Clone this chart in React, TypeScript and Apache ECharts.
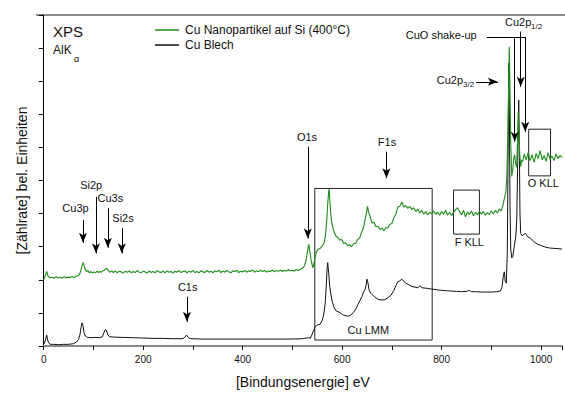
import React, { useEffect, useRef } from "react";
import * as echarts from "echarts";

// Binding energy (eV) vs. intensity (arb. units, 0..10 frame)
const nanoName = "Cu Nanopartikel auf Si (400°C)";
const blechName = "Cu Blech";

const nanoData: [number, number][] = [
  [0,2.00],[3,2.12],[6,2.25],[9,2.10],[13,2.06],[17,2.08],[21,2.05],[25,2.09],[29,2.06],[33,2.08],[37,2.05],[41,2.09],[45,2.06],[49,2.08],[53,2.07],[57,2.10],[61,2.07],[65,2.11],[69,2.12],[72,2.16],[75,2.30],[77,2.42],[79,2.52],[81,2.45],[83,2.33],[86,2.25],[89,2.28],[92,2.21],[95,2.25],[98,2.20],[101,2.24],[104,2.21],[107,2.26],[110,2.22],[113,2.25],[116,2.23],[119,2.27],[122,2.29],[125,2.34],[128,2.33],[131,2.26],[134,2.23],[137,2.27],
  [140,2.22],[144,2.27],[148,2.21],[152,2.26],[156,2.24],[160,2.20],[164,2.26],[168,2.23],[172,2.27],[176,2.21],[180,2.25],[184,2.22],[188,2.28],[192,2.23],[196,2.21],[200,2.26],[204,2.24],[208,2.20],[212,2.27],[216,2.22],[220,2.25],[224,2.21],[228,2.28],[232,2.24],[236,2.22],[240,2.26],[244,2.21],[248,2.27],[252,2.23],[256,2.25],[260,2.20],[264,2.26],[268,2.23],[272,2.28],[276,2.22],[280,2.25],[284,2.27],[288,2.21],[292,2.26],[296,2.23],[300,2.28],[304,2.22],[308,2.25],[312,2.21],[316,2.27],[320,2.24],[324,2.22],[328,2.28],[332,2.23],[336,2.26],[340,2.21],[344,2.27],[348,2.24],[352,2.29],[356,2.22],[360,2.26],[364,2.23],[368,2.28],[372,2.24],[376,2.21],[380,2.27],[384,2.25],[388,2.29],[392,2.22],[396,2.26],[400,2.24],[404,2.28],[408,2.23],[412,2.27],[416,2.25],[420,2.30],[424,2.23],[428,2.27],[432,2.24],[436,2.29],[440,2.25],[444,2.28],[448,2.23],[452,2.27],[456,2.25],[460,2.30],[464,2.24],[468,2.28],[472,2.26],[476,2.30],[480,2.25],[484,2.29],[488,2.26],[492,2.31],[496,2.27],[500,2.29],[504,2.26],[508,2.31],[512,2.28],[516,2.32],
  [520,2.34],[524,2.42],[527,2.56],[530,2.82],[533,3.08],[535,2.86],[538,2.56],[541,2.36],[544,2.55],[547,2.78],[550,2.90],[553,2.93],[556,2.95],[560,3.03],[564,3.12],[567,3.42],[569,3.78],[571,4.30],[573,4.68],[574,4.74],[576,4.22],[578,3.86],[580,3.66],[583,3.48],[587,3.33],[591,3.28],[595,3.20],[599,3.22],[603,3.10],[607,3.12],[611,3.03],[615,3.06],[619,3.00],[623,3.09],[627,3.10],[631,3.22],[635,3.26],[639,3.43],[643,3.58],[646,3.82],[649,4.02],[651,4.22],[653,4.06],[656,3.92],[660,3.72],[664,3.74],[668,3.60],[672,3.62],[676,3.52],[680,3.56],[684,3.48],[688,3.58],[692,3.57],[696,3.68],[700,3.70],[704,3.88],[708,3.98],[712,4.20],[716,4.22],[720,4.35],[724,4.20],[728,4.24],[732,4.16],[736,4.22],[740,4.12],[744,4.18],[748,4.06],[752,4.14],[756,4.02],[760,4.10],[764,3.98],[768,4.06],[772,3.96],[776,4.04],
  [780,4.00],[784,4.08],[788,3.97],[792,4.05],[796,3.95],[800,4.06],[804,3.98],[808,4.10],[812,3.96],[816,4.04],[820,3.94],[824,4.03],[828,4.12],[832,4.18],[836,4.06],[840,3.96],[844,4.10],[848,3.90],[852,4.05],[856,3.97],[860,4.08],[864,3.93],[868,4.04],[872,3.96],[876,4.07],[880,3.98],[884,4.06],[888,3.95],[892,4.03],[896,3.97],[900,4.08],[904,3.99],[908,4.10],[912,4.02],[916,4.14],[920,4.08],
  [924,4.30],[927,4.52],[929,4.64],[931,5.10],[933,6.30],[935,8.10],[936,9.04],[937,8.20],[939,6.10],[941,5.12],[943,5.32],[945,5.68],[947,5.78],[949,5.48],[951,5.40],[953,6.50],[954,7.08],[955,6.70],[957,5.80],[959,5.42],[961,5.62],[963,5.58],
  [966,5.80],[970,5.62],[974,5.85],[978,5.60],[982,5.78],[986,5.55],[990,5.82],[994,5.66],[998,5.90],[1002,5.62],[1006,5.76],[1010,5.58],[1014,5.84],[1018,5.64],[1022,5.74],[1026,5.60],[1030,5.80],[1034,5.66],[1038,5.76],[1042,5.70],
];

const blechData: [number, number][] = [
  [0,0.05],[3,0.15],[6,0.33],[9,0.12],[13,0.05],[20,0.05],[30,0.04],[40,0.05],[50,0.05],[60,0.07],[66,0.12],[70,0.20],[73,0.35],[75,0.55],[77,0.70],[79,0.62],[81,0.40],[84,0.30],[88,0.26],[95,0.25],[105,0.26],[112,0.25],[118,0.28],[121,0.40],[124,0.50],[126,0.48],[129,0.33],[133,0.28],[140,0.27],[160,0.26],[180,0.25],[200,0.24],[220,0.23],[240,0.23],[260,0.22],[278,0.22],[283,0.25],[287,0.33],[291,0.25],[296,0.22],[320,0.21],[350,0.21],[400,0.21],[450,0.21],[500,0.21],[520,0.22],[528,0.24],[533,0.25],[536,0.23],[539,0.33],[542,0.45],[545,0.55],[548,0.62],[552,0.65],[556,0.66],[560,0.78],[563,0.95],[566,1.30],[568,1.80],[570,2.40],[571,2.52],[573,2.20],[575,1.80],[577,1.60],[580,1.35],[584,1.15],[588,1.06],[593,1.03],[598,0.98],[603,0.93],[608,0.91],[613,0.90],[618,0.94],[623,1.02],[628,1.13],[632,1.26],[636,1.38],[640,1.50],[643,1.64],[646,1.70],[648,1.82],[650,2.02],[652,1.90],[654,1.70],[657,1.60],[662,1.53],[668,1.45],[674,1.40],[680,1.39],[686,1.40],[692,1.46],[698,1.53],[704,1.68],[708,1.82],[712,1.94],[716,1.97],[720,2.02],[724,1.95],[728,1.90],[734,1.85],[740,1.80],[746,1.78],[752,1.76],[757,1.82],[760,1.76],[766,1.75],[772,1.74],[780,1.72],[790,1.70],[800,1.68],[810,1.67],[820,1.66],[830,1.65],[840,1.64],[850,1.65],[856,1.68],[860,1.64],[870,1.64],[880,1.63],[890,1.63],[900,1.63],[910,1.64],[918,1.66],[921,1.75],[924,2.10],[926,2.24],[928,1.95],[930,1.90],[932,2.80],[933.5,5.50],[935,8.55],[936,7.50],[937.5,4.20],[939,2.90],[941,2.66],[943,2.70],[946,3.00],[949,3.30],[951,3.80],[953,5.60],[955,7.43],[956,6.40],[957.5,4.00],[959,3.40],[962,3.33],[966,3.38],[969,3.40],[973,3.30],[979,3.25],[985,3.16],[992,3.08],[999,3.04],[1008,2.99],[1017,2.96],[1026,2.95],[1034,2.94],[1042,2.93],
];

// annotation arrows in data coordinates: [x1, y1, x2, y2]
const arrowLines: [number, number, number, number][] = [
  [79, 3.81, 79, 3.12],
  [105, 4.51, 105, 2.80],
  [129, 4.16, 129, 2.97],
  [157, 3.56, 157, 2.80],
  [288, 1.49, 288, 0.73],
  [531, 6.02, 531, 3.25],
  [689, 5.87, 689, 5.07],
  [869, 7.98, 913, 7.98],
  [947, 9.34, 947, 6.17],
  [968, 9.34, 968, 6.47],
  [959, 9.50, 959, 7.83],
];
// plain bracket line (no arrow)
const bracketLines: [number, number, number, number][] = [
  [891, 9.34, 968, 9.34],
];
// boxes: [x1, y1, x2, y2]
const boxes: [number, number, number, number][] = [
  [545, 4.76, 781, 0.18],
  [824, 4.71, 876, 3.38],
  [975, 6.55, 1019, 5.14],
];

const FONT = "'Liberation Sans', Arial, Helvetica, sans-serif";

export default function App() {
  const ref = useRef<HTMLDivElement>(null);
  useEffect(() => {
    document.body.style.margin = "0";
    if (!ref.current) return;
    const chart = echarts.init(ref.current, undefined, { renderer: "svg" });

    const txt = (text: string, x: number, y: number, size: number, align: string = "center") => ({
      type: "text",
      x,
      y,
      style: {
        text,
        fontSize: size,
        fontFamily: FONT,
        fill: "#111",
        align,
        verticalAlign: "middle",
      },
      silent: true,
    });

    chart.setOption({
      animation: false,
      backgroundColor: "#fff",
      grid: { left: 43.7, right: 0, top: 15, bottom: 48, containLabel: false },
      legend: {
        left: 150,
        top: 19,
        orient: "vertical",
        icon: "rect",
        itemWidth: 24,
        itemHeight: 1.5,
        itemGap: 3,
        data: [nanoName, blechName],
        textStyle: { fontSize: 12, fontFamily: FONT, color: "#111", padding: [0, 0, 0, 1] },
      },
      xAxis: {
        type: "value",
        min: 0,
        max: 1042,
        interval: 100,
        name: "[Bindungsenergie] eV",
        nameLocation: "middle",
        nameGap: 29,
        nameTextStyle: { fontSize: 14, fontFamily: FONT, color: "#111" },
        axisLine: { show: true, lineStyle: { color: "#8a8a8a", width: 2 } },
        axisTick: { show: true, length: 4, lineStyle: { color: "#111" } },
        axisLabel: {
          fontSize: 10,
          fontFamily: FONT,
          color: "#111",
          margin: 8,
          formatter: (v: number) => (v % 200 === 0 ? String(v) : ""),
        },
        splitLine: { show: false },
      },
      yAxis: {
        type: "value",
        min: 0,
        max: 10,
        interval: 1,
        name: "[Zählrate] bel. Einheiten",
        nameLocation: "middle",
        nameGap: 15,
        nameTextStyle: { fontSize: 14, fontFamily: FONT, color: "#111" },
        axisLine: { show: true, lineStyle: { color: "#000", width: 1 } },
        axisTick: { show: true, length: 5, lineStyle: { color: "#111" } },
        axisLabel: { show: false },
        splitLine: { show: false },
      },
      series: [
        {
          name: nanoName,
          type: "line",
          data: nanoData,
          showSymbol: false,
          lineStyle: { color: "#1f8c1c", width: 1.1 },
          itemStyle: { color: "#1f8c1c" },
          z: 3,
          markLine: {
            silent: true,
            animation: false,
            symbol: ["none", "arrow"],
            symbolSize: [6, 10],
            label: { show: false },
            lineStyle: { color: "#000", width: 1, type: "solid" },
            data: [
              ...arrowLines.map(([x1, y1, x2, y2]) => [
                { coord: [x1, y1] },
                { coord: [x2, y2] },
              ]),
              ...bracketLines.map(([x1, y1, x2, y2]) => [
                { coord: [x1, y1], symbol: "none" },
                { coord: [x2, y2], symbol: "none" },
              ]),
            ],
          },
        },
        {
          name: blechName,
          type: "line",
          data: blechData,
          showSymbol: false,
          lineStyle: { color: "#111", width: 1 },
          itemStyle: { color: "#111" },
          z: 2,
          markArea: {
            silent: true,
            itemStyle: { color: "rgba(0,0,0,0)", borderColor: "#222", borderWidth: 1 },
            label: { show: false },
            data: boxes.map(([x1, y1, x2, y2]) => [
              { coord: [x1, y1] },
              { coord: [x2, y2] },
            ]),
          },
        },
      ],
      graphic: [
        { type: "line", shape: { x1: 36, y1: 15, x2: 565, y2: 15 }, style: { stroke: "#8a8a8a", lineWidth: 2 }, silent: true },
        txt("XPS", 53, 31, 15, "left"),
        txt("AlK", 53, 50, 12, "left"),
        txt("α", 74, 59, 9, "left"),
        txt("Cu3p", 75.5, 208, 11),
        txt("Si2p", 91.2, 185, 11),
        txt("Cu3s", 110.3, 198, 11),
        txt("Si2s", 123, 217.7, 11),
        txt("C1s", 187.7, 287.3, 11),
        txt("O1s", 307, 136.7, 11),
        txt("F1s", 387, 141.7, 11),
        txt("Cu LMM", 368.3, 330, 11),
        txt("F KLL", 469.3, 241.7, 11),
        txt("O KLL", 543.3, 182.7, 11),
        txt("CuO shake-up", 476.7, 35, 11, "right"),
        txt("Cu2p", 436.7, 80, 11, "left"),
        txt("3/2", 463, 84.5, 8, "left"),
        txt("Cu2p", 505, 22, 11, "left"),
        txt("1/2", 531, 26, 8, "left"),
      ],
    });
    return () => chart.dispose();
  }, []);
  return <div ref={ref} style={{ width: 565, height: 394 }} />;
}
